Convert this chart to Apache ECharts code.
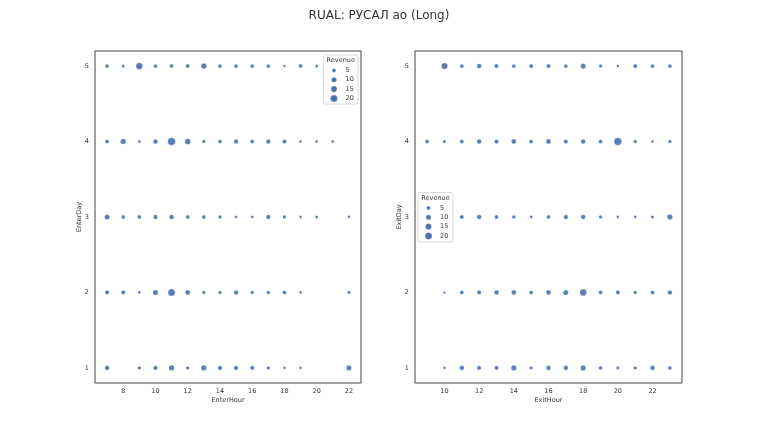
<!DOCTYPE html>
<html>
<head>
<meta charset="utf-8">
<script src="https://cdn.jsdelivr.net/npm/echarts@6/dist/echarts.min.js"></script>
<style>
html,body{margin:0;padding:0;background:#fff;}
#chart{width:758px;height:430px;}
</style>
</head>
<body>
<div id="chart"></div>
<script>
// ---- data ----
const titleText = 'RUAL: РУСАЛ ао (Long)';
// Left panel: EnterDay vs EnterHour
const enterDay = [
  5,5,5,5,5,5,5,5,5,5,5,5,5,5,
  4,4,4,4,4,4,4,4,4,4,4,4,4,4,4,
  3,3,3,3,3,3,3,3,3,3,3,3,3,3,3,
  2,2,2,2,2,2,2,2,2,2,2,2,2,2,
  1,1,1,1,1,1,1,1,1,1,1,1,1
];
const enterHour = [
  7,8,9,10,11,12,13,14,15,16,17,18,19,20,
  7,8,9,10,11,12,13,14,15,16,17,18,19,20,21,
  7,8,9,10,11,12,13,14,15,16,17,18,19,20,22,
  7,8,9,10,11,12,13,14,15,16,17,18,19,22,
  7,9,10,11,12,13,14,15,16,17,18,19,22
];
const enterRevenue = [
  5,3,18,5,5.5,5.5,12,5,5,5,5,2,5.5,3,
  5.5,11,2,8,24,13,3.5,5,7,5,7,6,2,2,2,
  10,5,5,7,8,5,5,4,2,2,7,4,2,3,2,
  6,6,2,10,20,9,3.5,4,7,4,4,5,2,3,
  8,4,7,11,4,11,7,7,6,4,2,2,10
];
// Right panel: ExitDay vs ExitHour
const exitDay = [
  5,5,5,5,5,5,5,5,5,5,5,5,5,5,
  4,4,4,4,4,4,4,4,4,4,4,4,4,4,4,
  3,3,3,3,3,3,3,3,3,3,3,3,3,
  2,2,2,2,2,2,2,2,2,2,2,2,2,2,
  1,1,1,1,1,1,1,1,1,1,1,1,1,1
];
const exitHour = [
  10,11,12,13,14,15,16,17,18,19,20,21,22,23,
  9,10,11,12,13,14,15,16,17,18,19,20,21,22,23,
  11,12,13,14,15,16,17,18,19,20,21,22,23,
  10,11,12,13,14,15,16,17,18,19,20,21,22,23,
  10,11,12,13,14,15,16,17,18,19,20,21,22,23
];
const exitRevenue = [
  16,5,8,6,5,6,6,5,10,4,2,6,5,5,
  5,3,5,8,6,9,5,9,6,8,5,24,4,2,4,
  6,8,5,4,2,5,7,8,4,2,2,3,11,
  1,5,6,8,9,5,8,10,18,5,6,4,5,7,
  2,8,6,6,11,3,8,8,10,5,3,4,8,5
];
const legendValues = [5, 10, 15, 20];
const dayTicks = [1, 2, 3, 4, 5];
const enterHourTicks = [8, 10, 12, 14, 16, 18, 20, 22];
const exitHourTicks = [10, 12, 14, 16, 18, 20, 22];

// ---- helpers ----
const COLOR = '#4c72b0';
function sizeOf(rev) { return Math.sqrt(3.5 + 2.3 * Math.max(rev, 0)); }
function pts(hours, days, revs) { return hours.map((h, i) => [h, days[i], revs[i]]); }

const txt = '#333';
const fs = 6.5;
const font = 'DejaVu Sans';

function xAxisCfg(idx, min, max, ticks, name) {
  return {
    gridIndex: idx, type: 'value', min: min, max: max,
    axisLine: { show: false }, axisTick: { show: false }, splitLine: { show: false },
    axisLabel: { customValues: ticks, fontSize: fs, color: txt, margin: 5, fontFamily: font },
    name: name, nameLocation: 'middle', nameGap: 14, nameMoveOverlap: false,
    nameTextStyle: { fontSize: fs, color: txt, fontFamily: font }
  };
}
function yAxisCfg(idx, name) {
  return {
    gridIndex: idx, type: 'value', min: 0.8, max: 5.2,
    axisLine: { show: false }, axisTick: { show: false }, splitLine: { show: false },
    axisLabel: { customValues: dayTicks, fontSize: fs, color: txt, margin: 6, fontFamily: font },
    name: name, nameLocation: 'middle', nameGap: 12, nameRotate: 90, nameMoveOverlap: false,
    nameTextStyle: { fontSize: fs, color: txt, fontFamily: font }
  };
}
function seriesCfg(idx, data) {
  return {
    type: 'scatter', xAxisIndex: idx, yAxisIndex: idx, data: data,
    symbolSize: v => sizeOf(v[2]),
    itemStyle: { color: COLOR, opacity: 0.92, borderColor: 'rgba(255,255,255,0.7)', borderWidth: 0.4 },
    emphasis: { disabled: true }, animation: false
  };
}
function legendGraphic(x, y, w, h) {
  const children = [
    { type: 'rect', shape: { x: x, y: y, width: w, height: h, r: 2 },
      style: { fill: 'rgba(255,255,255,0.85)', stroke: '#d0d0d0', lineWidth: 0.8 } },
    { type: 'text', style: { x: x + w / 2, y: y + 5.5, text: 'Revenue', fontSize: 6.5, fill: txt,
      align: 'center', verticalAlign: 'middle', fontFamily: font } }
  ];
  legendValues.forEach((v, i) => {
    const cy = y + 15.5 + i * 9.3;
    children.push({ type: 'circle', shape: { cx: x + 10.5, cy: cy, r: sizeOf(v) / 2 },
      style: { fill: COLOR, stroke: 'rgba(255,255,255,0.7)', lineWidth: 0.4 } });
    children.push({ type: 'text', style: { x: x + 22, y: cy, text: String(v), fontSize: 6.5, fill: txt,
      align: 'left', verticalAlign: 'middle', fontFamily: font } });
  });
  return { type: 'group', children: children, z: 100 };
}

const chart = echarts.init(document.getElementById('chart'), null, { renderer: 'canvas' });
chart.setOption({
  backgroundColor: '#fff',
  animation: false,
  textStyle: { fontFamily: font },
  title: { text: titleText, left: 'center', top: 5,
    textStyle: { fontSize: 12, fontWeight: 'normal', color: txt, fontFamily: font } },
  grid: [
    { left: 95, top: 51, width: 266, height: 332, show: true, borderColor: '#444', borderWidth: 1 },
    { left: 415, top: 51, width: 267, height: 332, show: true, borderColor: '#444', borderWidth: 1 }
  ],
  xAxis: [
    xAxisCfg(0, 6.25, 22.75, enterHourTicks, 'EnterHour'),
    xAxisCfg(1, 8.3, 23.7, exitHourTicks, 'ExitHour')
  ],
  yAxis: [ yAxisCfg(0, 'EnterDay'), yAxisCfg(1, 'ExitDay') ],
  series: [
    seriesCfg(0, pts(enterHour, enterDay, enterRevenue)),
    seriesCfg(1, pts(exitHour, exitDay, exitRevenue))
  ],
  graphic: [ legendGraphic(323.5, 55, 34.5, 49), legendGraphic(418, 192.5, 35, 49.5) ]
});
</script>
</body>
</html>
